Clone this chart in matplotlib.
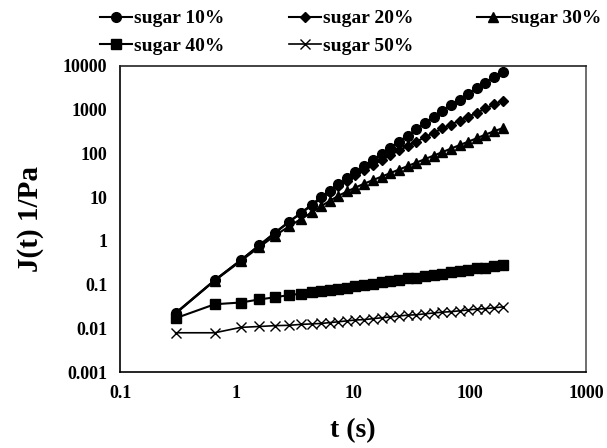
import matplotlib
matplotlib.use("Agg")
import matplotlib.pyplot as plt

# time points, s
t = [0.3, 0.65, 1.09, 1.57, 2.14, 2.82, 3.58, 4.42, 5.31, 6.35,
     7.48, 8.9, 10.5, 12.5, 14.8, 17.6, 20.9, 24.8, 29.4, 34.9,
     41.4, 49.2, 58.4, 69.3, 82.2, 97.6, 116, 137, 163, 194]

# creep compliance J(t), 1/Pa
sugar10 = [0.0224, 0.126, 0.363, 0.794, 1.55, 2.75, 4.37, 6.76, 10.0, 14.1,
           19.5, 26.9, 37.2, 51.3, 70.8, 97.7, 135, 186, 257, 355,
           490, 676, 933, 1259, 1698, 2291, 3090, 4169, 5623, 7413]
sugar20 = [0.0219, 0.126, 0.363, 0.794, 1.51, 2.69, 4.27, 6.46, 9.33, 13.2,
           17.8, 24.0, 31.6, 41.7, 55.0, 70.8, 91.2, 117, 148, 186,
           234, 295, 372, 457, 562, 692, 851, 1072, 1318, 1622]
sugar30 = [0.0219, 0.123, 0.347, 0.724, 1.32, 2.14, 3.16, 4.47, 6.17, 8.32,
           10.7, 13.5, 16.6, 20.4, 24.5, 29.5, 35.5, 42.7, 51.3, 61.7,
           74.1, 89.1, 107, 129, 155, 186, 224, 269, 324, 380]
sugar40 = [0.017, 0.0355, 0.0389, 0.0457, 0.0513, 0.0575, 0.0617, 0.0661, 0.0708, 0.0759,
           0.0794, 0.0851, 0.0912, 0.0977, 0.105, 0.112, 0.120, 0.129, 0.138, 0.145,
           0.155, 0.166, 0.178, 0.191, 0.204, 0.219, 0.234, 0.245, 0.263, 0.282]
sugar50 = [0.0079, 0.0079, 0.0105, 0.011, 0.0115, 0.0117, 0.0123, 0.0126, 0.0129, 0.0135,
           0.0141, 0.0148, 0.0155, 0.0158, 0.0166, 0.0174, 0.0182, 0.0191, 0.0200, 0.0204,
           0.0214, 0.0224, 0.0234, 0.0240, 0.0251, 0.0263, 0.0275, 0.0282, 0.0295, 0.0309]

labels = ['sugar 10%', 'sugar 20%', 'sugar 30%', 'sugar 40%', 'sugar 50%']
xticks = [0.1, 1, 10, 100, 1000]
xticklabels = ['0.1', '1', '10', '100', '1000']
yticks = [0.001, 0.01, 0.1, 1, 10, 100, 1000, 10000]
yticklabels = ['0.001', '0.01', '0.1', '1', '10', '100', '1000', '10000']

plt.rcParams['font.family'] = ['Liberation Serif', 'DejaVu Serif']
plt.rcParams['font.weight'] = 'bold'

fig = plt.figure(figsize=(6.07, 4.48), dpi=100)
ax = fig.add_axes([0.1977, 0.1696, 0.7677, 0.6831])

h10, = ax.plot(t, sugar10, '-o', color='black', lw=1.5, ms=7)
h20, = ax.plot(t, sugar20, '-D', color='black', lw=1.5, ms=5)
h30, = ax.plot(t, sugar30, '-^', color='black', lw=1.5, ms=7)
h40, = ax.plot(t, sugar40, '-s', color='black', lw=1.5, ms=6.5)
h50, = ax.plot(t, sugar50, '-x', color='black', lw=1.2, ms=6.5, mew=1.0)

ax.set_xscale('log')
ax.set_yscale('log')
ax.set_xlim(0.1, 1000)
ax.set_ylim(0.001, 10000)
ax.set_xticks(xticks)
ax.set_xticklabels(xticklabels)
ax.set_yticks(yticks)
ax.set_yticklabels(yticklabels)
ax.minorticks_off()
ax.tick_params(length=0, labelsize=13)
ax.tick_params(axis='y', pad=9)
ax.tick_params(axis='x', pad=9)
for s in ax.spines.values():
    s.set_linewidth(1.2)
ax.spines['top'].set_color('#222222')
ax.spines['right'].set_color('#555555')

ax.set_xlabel('t (s)', fontsize=20, fontweight='bold', labelpad=12)
ax.set_ylabel('J(t) 1/Pa', fontsize=21, fontweight='bold', labelpad=14)

# legend fills column-wise, so order entries to read row-wise
order = [h10, h40, h20, h50, h30]
order_labels = [labels[0], labels[3], labels[1], labels[4], labels[2]]
fig.legend(order, order_labels, loc='upper left', bbox_to_anchor=(0.165, 0.978),
           ncol=3, frameon=False, fontsize=14, handlelength=1.65, handletextpad=0.1,
           columnspacing=3.3, labelspacing=0.5, borderpad=0, borderaxespad=0)

fig.savefig('out.png', dpi=100)
